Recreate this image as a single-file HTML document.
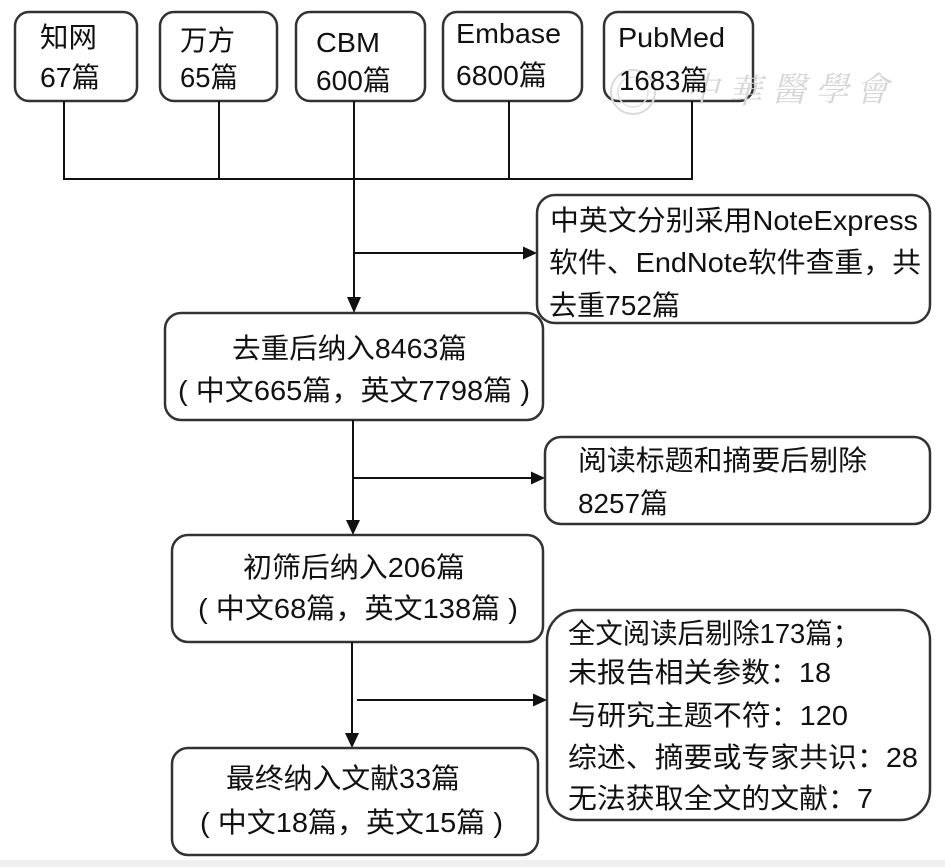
<!DOCTYPE html>
<html><head><meta charset="utf-8"><style>
html,body{margin:0;padding:0;background:#fff;}
svg{display:block;}
text{font-family:"Liberation Sans","Noto Sans CJK SC",sans-serif;font-size:28px;fill:#111;}
.wm{font-family:"Noto Serif CJK SC","Liberation Serif",serif;font-size:34px;fill:#d6d6d6;font-style:italic;}
</style></head><body>
<svg width="945" height="867" viewBox="0 0 945 867" xmlns="http://www.w3.org/2000/svg">
<rect x="0" y="0" width="945" height="867" fill="#fff"/>
<rect x="0" y="860" width="945" height="7" fill="#f0f0f0"/>

<g fill="#fff" stroke="#333" stroke-width="2.5">
<rect x="15" y="12" width="122" height="89" rx="14"/>
<rect x="160" y="12" width="117" height="89" rx="14"/>
<rect x="296" y="12" width="129" height="89" rx="14"/>
<rect x="443" y="12" width="139" height="89" rx="14"/>
<rect x="604" y="12" width="149" height="89" rx="14"/>
<rect x="537" y="195" width="393" height="128" rx="18"/>
<rect x="165" y="313" width="378" height="107" rx="16"/>
<rect x="545" y="437" width="385" height="87" rx="16"/>
<rect x="172" y="535" width="371" height="107" rx="16"/>
<rect x="547" y="610" width="383" height="210" rx="30"/>
<rect x="172" y="748" width="366" height="107" rx="16"/>
</g>

<!-- watermark -->
<g>
<circle cx="633" cy="92" r="22" fill="none" stroke="#dadada" stroke-width="2"/>
<circle cx="633" cy="92" r="15" fill="none" stroke="#e2e2e2" stroke-width="1.5"/>
<text class="wm" x="685" y="101">中</text>
<text class="wm" x="728" y="103">華</text>
<text class="wm" x="772" y="101">醫</text>
<text class="wm" x="815" y="101">學</text>
<text class="wm" x="855" y="101">會</text>
</g>

<g stroke="#111" stroke-width="2" fill="none">
<line x1="64" y1="101" x2="64" y2="179"/>
<line x1="219" y1="101" x2="219" y2="179"/>
<line x1="354" y1="101" x2="354" y2="179"/>
<line x1="509" y1="101" x2="509" y2="179"/>
<line x1="692" y1="101" x2="692" y2="179"/>
<line x1="63" y1="179" x2="693" y2="179"/>
<line x1="354" y1="179" x2="354" y2="300"/>
<line x1="354" y1="253" x2="525" y2="253"/>
<line x1="353" y1="420" x2="353" y2="522"/>
<line x1="353" y1="478" x2="533" y2="478"/>
<line x1="352" y1="642" x2="352" y2="735"/>
<line x1="357" y1="700" x2="535" y2="700"/>
</g>
<g fill="#111">
<polygon points="347,297 361,297 354,313"/>
<polygon points="523,246.5 523,259.5 537,253"/>
<polygon points="346,520 360,520 353,535"/>
<polygon points="531,471.5 531,484.5 545,478"/>
<polygon points="345,733 359,733 352,748"/>
<polygon points="533,693.5 533,706.5 547,700"/>
</g>

<!-- top boxes -->
<text x="40" y="47" textLength="57" lengthAdjust="spacingAndGlyphs">知网</text>
<text x="40" y="87" textLength="60" lengthAdjust="spacingAndGlyphs">67篇</text>
<text x="180" y="50" textLength="55" lengthAdjust="spacingAndGlyphs">万方</text>
<text x="180" y="87" textLength="58" lengthAdjust="spacingAndGlyphs">65篇</text>
<text x="316" y="52" textLength="64" lengthAdjust="spacingAndGlyphs">CBM</text>
<text x="316" y="90" textLength="75" lengthAdjust="spacingAndGlyphs">600篇</text>
<text x="456" y="43" textLength="105" lengthAdjust="spacingAndGlyphs">Embase</text>
<text x="456" y="85" textLength="91" lengthAdjust="spacingAndGlyphs">6800篇</text>
<text x="618" y="47" textLength="107" lengthAdjust="spacingAndGlyphs">PubMed</text>
<text x="619" y="90" textLength="89" lengthAdjust="spacingAndGlyphs">1683篇</text>

<!-- NoteExpress box -->
<text x="550" y="230" textLength="368" lengthAdjust="spacingAndGlyphs">中英文分别采用NoteExpress</text>
<text x="549" y="272" textLength="372" lengthAdjust="spacingAndGlyphs">软件、EndNote软件查重，共</text>
<text x="549" y="315" textLength="131" lengthAdjust="spacingAndGlyphs">去重752篇</text>

<!-- 去重后 -->
<text x="232" y="358" textLength="235" lengthAdjust="spacingAndGlyphs">去重后纳入8463篇</text>
<text x="178" y="400" textLength="352" lengthAdjust="spacingAndGlyphs">( 中文665篇，英文7798篇 )</text>

<!-- 阅读 -->
<text x="578" y="470" textLength="289" lengthAdjust="spacingAndGlyphs">阅读标题和摘要后剔除</text>
<text x="578" y="513" textLength="90" lengthAdjust="spacingAndGlyphs">8257篇</text>

<!-- 初筛 -->
<text x="243" y="577" textLength="222" lengthAdjust="spacingAndGlyphs">初筛后纳入206篇</text>
<text x="198" y="618" textLength="320" lengthAdjust="spacingAndGlyphs">( 中文68篇，英文138篇 )</text>

<!-- 全文 -->
<text x="568" y="643" textLength="292" lengthAdjust="spacingAndGlyphs">全文阅读后剔除173篇；</text>
<text x="568" y="682" textLength="263" lengthAdjust="spacingAndGlyphs">未报告相关参数：18</text>
<text x="568" y="725" textLength="280" lengthAdjust="spacingAndGlyphs">与研究主题不符：120</text>
<text x="568" y="767" textLength="350" lengthAdjust="spacingAndGlyphs">综述、摘要或专家共识：28</text>
<text x="568" y="808" textLength="305" lengthAdjust="spacingAndGlyphs">无法获取全文的文献：7</text>

<!-- 最终 -->
<text x="226" y="788" textLength="234" lengthAdjust="spacingAndGlyphs">最终纳入文献33篇</text>
<text x="200" y="832" textLength="303" lengthAdjust="spacingAndGlyphs">( 中文18篇，英文15篇 )</text>
</svg>
</body></html>
